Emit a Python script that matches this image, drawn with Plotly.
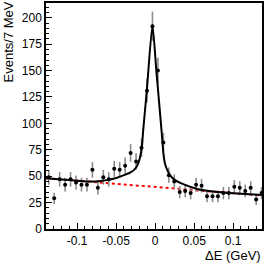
import numpy as np
import plotly.graph_objects as go

# Histogram: bin centres (GeV) and counts per 7 MeV
bin_centers = [-0.1365, -0.1295, -0.1225, -0.1155, -0.1085, -0.1015, -0.0945, -0.0875,
               -0.0805, -0.0735, -0.0665, -0.0595, -0.0525, -0.0455, -0.0385, -0.0315,
               -0.0245, -0.0175, -0.0105, -0.0035, 0.0035, 0.0105, 0.0175, 0.0245,
               0.0315, 0.0385, 0.0455, 0.0525, 0.0595, 0.0665, 0.0735, 0.0805,
               0.0875, 0.0945, 0.1015, 0.1085, 0.1155, 0.1225, 0.1295, 0.1365]
counts = [49, 29, 47, 42, 47, 44, 42, 42,
          56, 39, 49, 47, 57, 56, 60, 72,
          64, 77, 131, 192, 150, 82, 51, 45,
          35, 36, 34, 42, 41, 31, 31, 31,
          34, 34, 40, 39, 36, 39, 28, 34]

# Total fit curve
fit_x = [-0.140, -0.120, -0.100, -0.085, -0.070, -0.060, -0.050, -0.040, -0.032,
         -0.027, -0.023, -0.020, -0.017, -0.0154, -0.0105, -0.0035, 0.0015,
         0.0082, 0.0105, 0.0125, 0.016, 0.019, 0.025, 0.036, 0.055, 0.080, 0.100, 0.137]
fit_y = [48.1, 46.9, 45.8, 45.0, 45.5, 46.5, 48.3, 51.0, 53.5,
         56.0, 60.0, 66.0, 78.0, 93.0, 133.0, 193.0, 150.0,
         93.0, 72.0, 62.0, 55.0, 51.0, 46.5, 42.5, 37.7, 35.0, 33.8, 32.3]

# Background (linear)
bkg_x = [-0.140, 0.137]
bkg_y = [48.1, 31.7]

x_tickvals = [-0.1, -0.05, 0, 0.05, 0.1]
x_ticktext = ["-0.1", "-0.05", "0", "0.05", "0.1"]
y_tickvals = [0, 25, 50, 75, 100, 125, 150, 175, 200]

errors = [float(np.sqrt(c)) for c in counts]

FONT = "Liberation Sans Narrow, Liberation Sans, Arial, sans-serif"

fig = go.Figure()
fig.add_trace(go.Scatter(x=bkg_x, y=bkg_y, mode="lines",
                         line=dict(color="red", width=2, dash="dot"),
                         hoverinfo="skip", showlegend=False))
fig.add_trace(go.Scatter(x=bin_centers, y=counts, mode="markers",
                         marker=dict(color="black", size=4, symbol="circle"),
                         error_y=dict(type="data", array=errors, color="#8c8c8c",
                                      thickness=1.6, width=0),
                         showlegend=False))
fig.add_trace(go.Scatter(x=fit_x, y=fit_y, mode="lines",
                         line=dict(color="black", width=2, shape="spline", smoothing=0.6),
                         showlegend=False))

fig.update_layout(
    width=265, height=263,
    margin=dict(l=46, r=3, t=1, b=34),
    paper_bgcolor="white", plot_bgcolor="white",
    font=dict(family=FONT, size=12, color="black"),
    xaxis=dict(range=[-0.14, 0.137], showgrid=False, zeroline=False,
               showline=True, linecolor="black", linewidth=1.5, mirror=True,
               tickvals=x_tickvals, ticktext=x_ticktext,
               ticks="inside", ticklen=6, tickcolor="black", tickwidth=1,
               minor=dict(dtick=0.01, tick0=0, ticks="inside", ticklen=3,
                          tickcolor="black", tickwidth=1),
               tickfont=dict(size=12, family=FONT)),
    yaxis=dict(range=[0, 214], showgrid=False, zeroline=False,
               showline=True, linecolor="black", linewidth=1.5, mirror=True,
               tickvals=y_tickvals,
               ticks="inside", ticklen=6, tickcolor="black", tickwidth=1,
               minor=dict(dtick=5, tick0=0, ticks="inside", ticklen=3,
                          tickcolor="black", tickwidth=1),
               tickfont=dict(size=12, family=FONT)),
    annotations=[
        dict(text="Events/7 MeV", xref="paper", yref="paper", x=-0.176, y=0.83,
             xanchor="center", yanchor="middle", textangle=-90, showarrow=False,
             font=dict(size=13, family=FONT)),
        dict(text="ΔE (GeV)", xref="paper", yref="paper", x=1.006, y=-0.118,
             xanchor="right", yanchor="middle", showarrow=False,
             font=dict(size=13, family=FONT)),
    ],
)

fig.write_html("out.html", config={"displayModeBar": False},
               post_script="document.body.style.margin='0';document.body.style.overflow='hidden';")
